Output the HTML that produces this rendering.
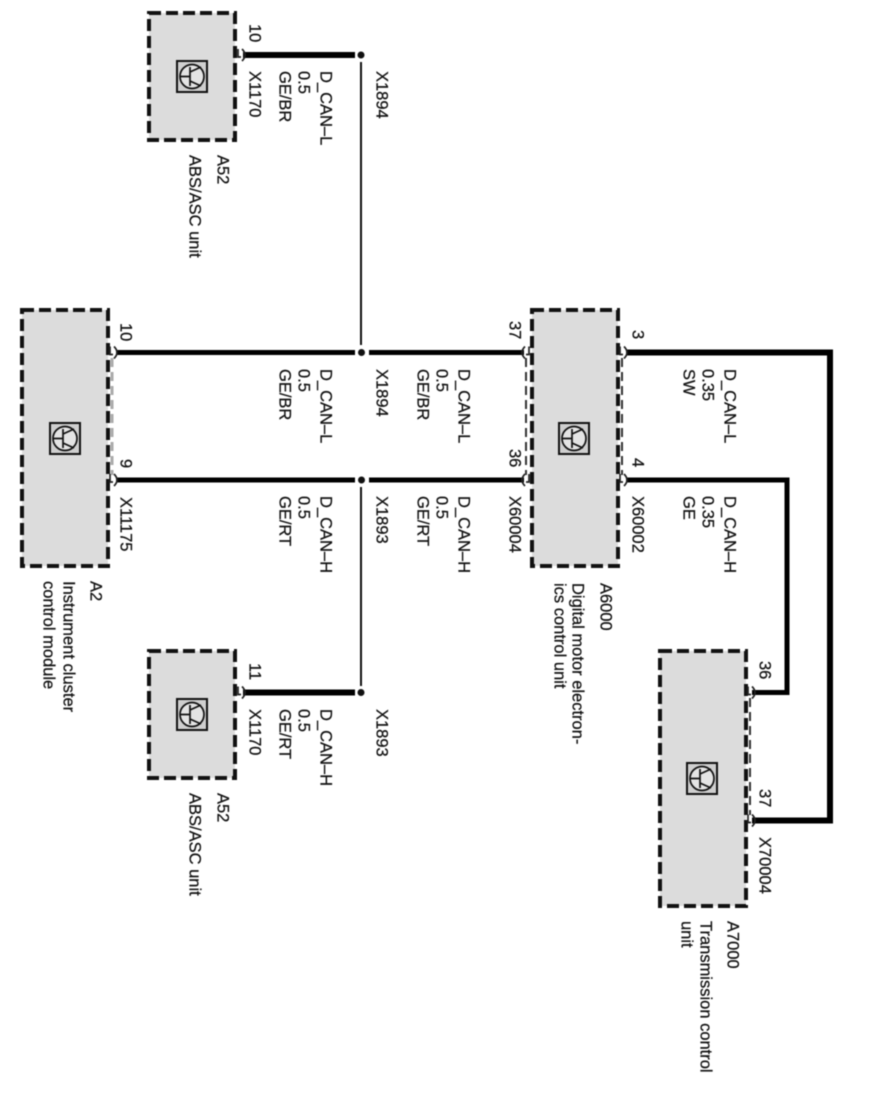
<!DOCTYPE html>
<html><head><meta charset="utf-8"><style>
html,body{margin:0;padding:0;background:#fff;width:892px;height:1102px;overflow:hidden}
svg{display:block;filter:blur(.4px)}
text{font-family:"Liberation Sans",sans-serif;font-size:16.5px;fill:#111;stroke:#111;stroke-width:.25}
.box{fill:#dcdcdc;stroke:#111;stroke-width:4;stroke-dasharray:12 5}
.w{stroke:#000;stroke-width:5;fill:none}
.t{stroke:#111;stroke-width:2;fill:none}
.c{stroke:#222;stroke-width:1.700;fill:none}
.d{stroke:#333;stroke-width:2;stroke-dasharray:9 5;fill:none}
.i{stroke:#111;fill:none;stroke-width:1.700}
</style></head><body>
<svg width="892" height="1102" viewBox="0 0 892 1102" xmlns="http://www.w3.org/2000/svg">
<defs>
<g id="ic"><rect x="0" y="0" width="30" height="31" fill="#cfcfcf" stroke="#111" stroke-width="2"/><circle cx="15" cy="15.500" r="12" fill="#e4e4e4" stroke="#111" stroke-width="1.700"/><path class="i" d="M3 15.500H13M13 6V25M13 11L24 6M13 20L24 25"/></g>
<g id="hk"><path class="c" d="M0 -6V2H3M4 -6Q10 0 4 6"/></g>
</defs>
<rect class="box" x="149" y="13" width="86" height="127"/>
<rect class="box" x="22" y="310" width="86" height="256"/>
<rect class="box" x="532" y="310" width="86" height="256"/>
<rect class="box" x="660" y="651" width="86" height="255"/>
<rect class="box" x="149" y="651" width="86" height="127"/>
<use href="#ic" x="177" y="61"/><use href="#ic" x="50" y="423"/><use href="#ic" x="559" y="423"/><use href="#ic" x="687" y="763"/><use href="#ic" x="177" y="699"/>
<path d="M112 358V475" style="stroke:#aaa;stroke-width:3;stroke-dasharray:9 5;fill:none"/><path class="d" d="M526 358V475M622 358V475M750 698V815"/>
<path class="w" style="stroke-width:6" d="M243 55H355M243 692.500H355"/>
<path class="w" d="M116 352.500H355M369 352.500H524M116 480H355M369 480H524"/>
<path class="w" style="stroke-width:6" d="M626 352.500H830V820.500H752"/>
<path class="w" d="M626 480H787V692.500H752"/>
<path class="t" d="M361 62V345M361 487V686"/>
<g fill="#111"><circle cx="361" cy="55" r="3.500"/><circle cx="361.500" cy="352.500" r="3.500"/><circle cx="361.500" cy="480" r="3.500"/><circle cx="361" cy="692.500" r="3.500"/></g>
<use href="#hk" x="238" y="55"/><use href="#hk" x="238" y="692.500"/>
<use href="#hk" x="110" y="352.500"/><use href="#hk" x="110" y="480"/>
<use href="#hk" x="620" y="352.500"/><use href="#hk" x="620" y="480"/>
<use href="#hk" x="748" y="692.500"/><use href="#hk" x="748" y="820.500"/>
<use href="#hk" transform="translate(529,352.500) scale(-1,1)"/><use href="#hk" transform="translate(529,480) scale(-1,1)"/>
<g transform="translate(0.500,0)">
<text transform="translate(249,24) rotate(90)">10</text>
<text transform="translate(249,71) rotate(90)">X1170</text>
<text transform="translate(279,71) rotate(90)">GE/BR</text>
<text transform="translate(298,71) rotate(90)">0.5</text>
<text transform="translate(320,71) rotate(90)">D_CAN–L</text>
<text transform="translate(376,71) rotate(90)">X1894</text>
<text transform="translate(217,155) rotate(90)">A52</text>
<text transform="translate(189,155) rotate(90)">ABS/ASC unit</text>

<text transform="translate(120,323) rotate(90)">10</text>
<text transform="translate(120,459) rotate(90)">9</text>
<text transform="translate(120,497) rotate(90)">X11175</text>
<text transform="translate(90,581) rotate(90)">A2</text>
<text transform="translate(63,581) rotate(90)">Instrument cluster</text>
<text transform="translate(43,581) rotate(90)">control module</text>

<text transform="translate(279,369) rotate(90)">GE/BR</text>
<text transform="translate(298,369) rotate(90)">0.5</text>
<text transform="translate(320,369) rotate(90)">D_CAN–L</text>
<text transform="translate(376,369) rotate(90)">X1894</text>
<text transform="translate(417,369) rotate(90)">GE/BR</text>
<text transform="translate(436,369) rotate(90)">0.5</text>
<text transform="translate(458,369) rotate(90)">D_CAN–L</text>
<text transform="translate(279,496) rotate(90)">GE/RT</text>
<text transform="translate(298,496) rotate(90)">0.5</text>
<text transform="translate(320,496) rotate(90)">D_CAN–H</text>
<text transform="translate(376,496) rotate(90)">X1893</text>
<text transform="translate(417,496) rotate(90)">GE/RT</text>
<text transform="translate(436,496) rotate(90)">0.5</text>
<text transform="translate(458,496) rotate(90)">D_CAN–H</text>

<text transform="translate(509,321) rotate(90)">37</text>
<text transform="translate(509,449) rotate(90)">36</text>
<text transform="translate(509,496) rotate(90)">X60004</text>
<text transform="translate(600,583) rotate(90)">A6000</text>
<text transform="translate(572,583) rotate(90)">Digital motor electron-</text>
<text transform="translate(554,583) rotate(90)">ics control unit</text>
<text transform="translate(632,330) rotate(90)">3</text>
<text transform="translate(632,458) rotate(90)">4</text>
<text transform="translate(632,496) rotate(90)">X60002</text>
<text transform="translate(683,369) rotate(90)">SW</text>
<text transform="translate(702,369) rotate(90)">0.35</text>
<text transform="translate(724,369) rotate(90)">D_CAN–L</text>
<text transform="translate(683,496) rotate(90)">GE</text>
<text transform="translate(702,496) rotate(90)">0.35</text>
<text transform="translate(724,496) rotate(90)">D_CAN–H</text>

<text transform="translate(759,661) rotate(90)">36</text>
<text transform="translate(759,789) rotate(90)">37</text>
<text transform="translate(759,837) rotate(90)">X70004</text>
<text transform="translate(727,921) rotate(90)">A7000</text>
<text transform="translate(700,921) rotate(90)">Transmission control</text>
<text transform="translate(681,921) rotate(90)">unit</text>

<text transform="translate(249,663) rotate(90)">11</text>
<text transform="translate(249,709) rotate(90)">X1170</text>
<text transform="translate(279,709) rotate(90)">GE/RT</text>
<text transform="translate(298,709) rotate(90)">0.5</text>
<text transform="translate(320,709) rotate(90)">D_CAN–H</text>
<text transform="translate(376,709) rotate(90)">X1893</text>
<text transform="translate(217,793) rotate(90)">A52</text>
<text transform="translate(189,793) rotate(90)">ABS/ASC unit</text>
</g>
</svg>
</body></html>
